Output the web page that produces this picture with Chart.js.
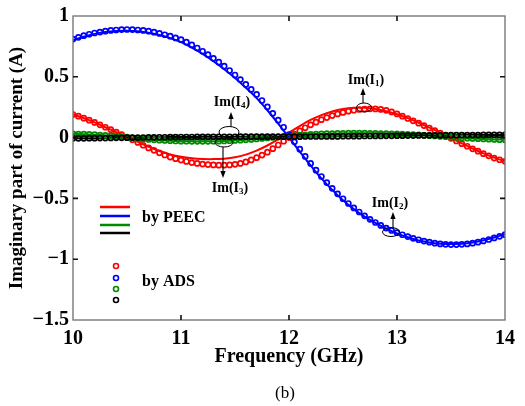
<!DOCTYPE html>
<html>
<head>
<meta charset="utf-8">
<script src="https://cdn.jsdelivr.net/npm/chart.js@4.4.0/dist/chart.umd.min.js"></script>
<style>
  html, body { margin: 0; padding: 0; background: #fff; }
  canvas { display: block; }
</style>
</head>
<body>
<canvas id="current_Chart" width="525" height="406"></canvas>
<script>
// frequency points (GHz)
const freqADS = [
  10.00, 10.05, 10.10, 10.15, 10.20, 10.25, 10.30, 10.35, 10.40, 10.45,
  10.50, 10.55, 10.60, 10.65, 10.70, 10.75, 10.80, 10.85, 10.90, 10.95,
  11.00, 11.05, 11.10, 11.15, 11.20, 11.25, 11.30, 11.35, 11.40, 11.45,
  11.50, 11.55, 11.60, 11.65, 11.70, 11.75, 11.80, 11.85, 11.90, 11.95,
  12.00, 12.05, 12.10, 12.15, 12.20, 12.25, 12.30, 12.35, 12.40, 12.45,
  12.50, 12.55, 12.60, 12.65, 12.70, 12.75, 12.80, 12.85, 12.90, 12.95,
  13.00, 13.05, 13.10, 13.15, 13.20, 13.25, 13.30, 13.35, 13.40, 13.45,
  13.50, 13.55, 13.60, 13.65, 13.70, 13.75, 13.80, 13.85, 13.90, 13.95,
  14.00
];
const freqPEEC = [
  10.0, 10.1, 10.2, 10.3, 10.4, 10.5, 10.6, 10.7, 10.8, 10.9,
  11.0, 11.1, 11.2, 11.3, 11.4, 11.5, 11.6, 11.7, 11.8, 11.9,
  12.0, 12.1, 12.2, 12.3, 12.4, 12.5, 12.6, 12.7, 12.8, 12.9,
  13.0, 13.1, 13.2, 13.3, 13.4, 13.5, 13.6, 13.7, 13.8, 13.9,
  14.0
];

// Im(I1) .. Im(I4) by PEEC (solid lines)
const redPEEC = [
  0.190, 0.160, 0.125, 0.085, 0.045, 0.005, -0.035, -0.075, -0.110, -0.138,
  -0.158, -0.170, -0.176, -0.177, -0.173, -0.162, -0.140, -0.107, -0.065, -0.015,
  0.040, 0.095, 0.145, 0.185, 0.215, 0.235, 0.245, 0.245, 0.235, 0.217,
  0.192, 0.160, 0.122, 0.082, 0.040, -0.004, -0.048, -0.090, -0.130, -0.165,
  -0.195
];
const bluePEEC = [
  0.800, 0.830, 0.853, 0.868, 0.877, 0.879, 0.874, 0.862, 0.843, 0.818,
  0.785, 0.740, 0.688, 0.628, 0.562, 0.490, 0.410, 0.325, 0.225, 0.115,
  0.000, -0.115, -0.228, -0.335, -0.430, -0.515, -0.588, -0.650, -0.702, -0.748,
  -0.788, -0.820, -0.845, -0.862, -0.872, -0.875, -0.872, -0.862, -0.845, -0.822,
  -0.795
];
const greenPEEC = [
  0.030, 0.028, 0.024, 0.018, 0.010, 0.002, -0.007, -0.015, -0.021, -0.026,
  -0.029, -0.031, -0.031, -0.030, -0.028, -0.024, -0.018, -0.011, -0.003, 0.005,
  0.013, 0.020, 0.026, 0.030, 0.033, 0.035, 0.036, 0.036, 0.034, 0.032,
  0.030, 0.026, 0.022, 0.016, 0.010, 0.004, -0.002, -0.007, -0.011, -0.015,
  -0.018
];
const blackPEEC = [
  -0.006, -0.006, -0.005, -0.004, -0.002, -0.001, 0.000, 0.002, 0.003, 0.004,
  0.005, 0.005, 0.006, 0.007, 0.007, 0.007, 0.008, 0.008, 0.008, 0.008,
  0.008, 0.008, 0.009, 0.009, 0.010, 0.011, 0.012, 0.013, 0.014, 0.015,
  0.016, 0.017, 0.018, 0.019, 0.019, 0.020, 0.021, 0.021, 0.022, 0.022,
  0.022
];

// same currents by ADS (open circles)
const redADS = [
  0.190, 0.176, 0.160, 0.143, 0.125, 0.105, 0.085, 0.065, 0.045, 0.025,
  0.005, -0.018, -0.040, -0.063, -0.085, -0.105, -0.125, -0.143, -0.160, -0.173,
  -0.185, -0.196, -0.205, -0.212, -0.218, -0.222, -0.225, -0.227, -0.227, -0.225,
  -0.220, -0.212, -0.200, -0.184, -0.165, -0.144, -0.120, -0.091, -0.061, -0.030,
  0.000, 0.028, 0.055, 0.081, 0.105, 0.127, 0.147, 0.165, 0.181, 0.195,
  0.207, 0.217, 0.225, 0.231, 0.235, 0.237, 0.236, 0.232, 0.224, 0.211,
  0.195, 0.176, 0.157, 0.138, 0.119, 0.099, 0.079, 0.058, 0.037, 0.016,
  -0.006, -0.028, -0.050, -0.071, -0.092, -0.112, -0.132, -0.150, -0.168, -0.182,
  -0.195
];
const blueADS = [
  0.810, 0.825, 0.838, 0.850, 0.860, 0.868, 0.875, 0.881, 0.885, 0.888,
  0.889, 0.888, 0.885, 0.881, 0.875, 0.867, 0.857, 0.846, 0.834, 0.820,
  0.805, 0.785, 0.762, 0.737, 0.710, 0.682, 0.652, 0.620, 0.587, 0.552,
  0.515, 0.477, 0.437, 0.396, 0.355, 0.305, 0.253, 0.200, 0.143, 0.085,
  0.025, -0.035, -0.095, -0.155, -0.212, -0.268, -0.320, -0.370, -0.417, -0.462,
  -0.503, -0.542, -0.578, -0.612, -0.643, -0.672, -0.698, -0.722, -0.744, -0.764,
  -0.782, -0.799, -0.814, -0.828, -0.840, -0.851, -0.860, -0.868, -0.874, -0.878,
  -0.880, -0.880, -0.878, -0.874, -0.868, -0.860, -0.850, -0.838, -0.825, -0.812,
  -0.798
];
const greenADS = [
  0.030, 0.029, 0.028, 0.026, 0.024, 0.021, 0.018, 0.014, 0.010, 0.006,
  0.002, -0.003, -0.007, -0.011, -0.015, -0.018, -0.021, -0.024, -0.026, -0.028,
  -0.029, -0.030, -0.031, -0.031, -0.031, -0.031, -0.030, -0.029, -0.028, -0.026,
  -0.024, -0.021, -0.018, -0.015, -0.011, -0.007, -0.003, 0.001, 0.005, 0.009,
  0.013, 0.017, 0.020, 0.023, 0.026, 0.028, 0.030, 0.032, 0.033, 0.034,
  0.035, 0.036, 0.036, 0.036, 0.036, 0.035, 0.034, 0.033, 0.032, 0.031,
  0.030, 0.028, 0.026, 0.024, 0.022, 0.019, 0.016, 0.013, 0.010, 0.007,
  0.004, 0.001, -0.002, -0.005, -0.007, -0.009, -0.011, -0.013, -0.015, -0.017,
  -0.018
];
const blackADS = [
  -0.006, -0.006, -0.006, -0.005, -0.005, -0.004, -0.004, -0.003, -0.002, -0.002,
  -0.001, 0.000, 0.000, 0.001, 0.002, 0.002, 0.003, 0.003, 0.004, 0.004,
  0.005, 0.005, 0.005, 0.006, 0.006, 0.006, 0.007, 0.007, 0.007, 0.007,
  0.007, 0.008, 0.008, 0.008, 0.008, 0.008, 0.008, 0.008, 0.008, 0.008,
  0.008, 0.008, 0.008, 0.009, 0.009, 0.009, 0.009, 0.010, 0.010, 0.010,
  0.011, 0.011, 0.012, 0.012, 0.013, 0.013, 0.014, 0.014, 0.015, 0.015,
  0.016, 0.016, 0.017, 0.017, 0.018, 0.018, 0.019, 0.019, 0.019, 0.020,
  0.020, 0.020, 0.021, 0.021, 0.021, 0.021, 0.022, 0.022, 0.022, 0.022,
  0.022
];

// tick labels
const xTickLabels = ['10', '11', '12', '13', '14'];
const yTickValues = [1, 0.5, 0, -0.5, -1, -1.5];
const yTickLabels = ['1', '0.5', '0', '\u22120.5', '\u22121', '\u22121.5'];

const SERIF = '"Liberation Serif", "Times New Roman", serif';
const RED = '#ff0000', BLUE = '#0000ff', GREEN = '#008a00', BLACK = '#000000';

function toPoints(xs, ys) {
  return xs.map((x, i) => ({ x: x, y: ys[i] }));
}

function peecSet(ys, color, order) {
  return {
    data: toPoints(freqPEEC, ys),
    borderColor: color,
    borderWidth: 2,
    pointRadius: 0,
    tension: 0.35,
    fill: false,
    order: order
  };
}

function adsSet(ys, color, order) {
  return {
    data: toPoints(freqADS, ys),
    showLine: false,
    borderColor: color,
    backgroundColor: 'rgba(255,255,255,0)',
    pointRadius: 2.5,
    pointBorderWidth: 1.7,
    pointBorderColor: color,
    order: order
  };
}

// draws the box, inward ticks, titles, legend and the Im(I) notes
const decorPlugin = {
  id: 'decor',
  afterDraw(chart) {
    const ctx = chart.ctx;
    const a = chart.chartArea;
    const xs = chart.scales.x, ys = chart.scales.y;
    ctx.save();

    // box
    ctx.strokeStyle = '#6e6e6e';
    ctx.lineWidth = 1.3;
    ctx.strokeRect(a.left, a.top, a.right - a.left, a.bottom - a.top);

    // inward ticks on all four sides
    ctx.strokeStyle = '#111';
    ctx.lineWidth = 1.6;
    ctx.beginPath();
    [11, 12, 13].forEach(v => {
      const px = xs.getPixelForValue(v);
      ctx.moveTo(px, a.bottom); ctx.lineTo(px, a.bottom - 5);
      ctx.moveTo(px, a.top); ctx.lineTo(px, a.top + 5);
    });
    [0.5, 0, -0.5, -1].forEach(v => {
      const py = ys.getPixelForValue(v);
      ctx.moveTo(a.left, py); ctx.lineTo(a.left + 5, py);
      ctx.moveTo(a.right, py); ctx.lineTo(a.right - 5, py);
    });
    ctx.stroke();

    // axis titles and caption
    ctx.fillStyle = '#000';
    ctx.textAlign = 'center';
    ctx.textBaseline = 'middle';
    ctx.font = 'bold 20px ' + SERIF;
    ctx.fillText('Frequency (GHz)', 289, 357);
    ctx.save();
    ctx.translate(17, 168);
    ctx.rotate(-Math.PI / 2);
    ctx.font = 'bold 19px ' + SERIF;
    ctx.fillText('Imaginary part of current (A)', 0, 0);
    ctx.restore();
    ctx.font = '17px ' + SERIF;
    ctx.fillText('(b)', 285, 394);

    // legend
    const colors = [RED, BLUE, GREEN, BLACK];
    const lineY = [207, 216, 225, 233];
    const dotY = [266, 278, 289, 300];
    ctx.lineWidth = 2.5;
    colors.forEach((c, i) => {
      ctx.strokeStyle = c;
      ctx.beginPath();
      ctx.moveTo(100, lineY[i]); ctx.lineTo(130, lineY[i]);
      ctx.stroke();
    });
    ctx.lineWidth = 1.6;
    colors.forEach((c, i) => {
      ctx.strokeStyle = c;
      ctx.beginPath();
      ctx.arc(116, dotY[i], 2.5, 0, Math.PI * 2);
      ctx.stroke();
    });
    ctx.fillStyle = '#000';
    ctx.textAlign = 'left';
    ctx.font = 'bold 16px ' + SERIF;
    ctx.fillText('by PEEC', 142, 218);
    ctx.fillText('by ADS', 142, 282);

    // notes: ellipse + arrow + label
    function ellipse(cx, cy, rx, ry) {
      ctx.strokeStyle = '#000';
      ctx.lineWidth = 1;
      ctx.beginPath();
      ctx.ellipse(cx, cy, rx, ry, 0, 0, Math.PI * 2);
      ctx.stroke();
    }
    function arrow(x, y0, y1) {
      const dir = y1 < y0 ? 1 : -1;
      ctx.strokeStyle = '#000';
      ctx.lineWidth = 1.1;
      ctx.beginPath();
      ctx.moveTo(x, y0); ctx.lineTo(x, y1 + dir * 5);
      ctx.stroke();
      ctx.fillStyle = '#000';
      ctx.beginPath();
      ctx.moveTo(x, y1);
      ctx.lineTo(x - 2.6, y1 + dir * 7);
      ctx.lineTo(x + 2.6, y1 + dir * 7);
      ctx.closePath();
      ctx.fill();
    }
    function label(cx, cy, sub) {
      ctx.fillStyle = '#000';
      ctx.textAlign = 'left';
      ctx.textBaseline = 'middle';
      const big = 'bold 14px ' + SERIF, small = 'bold 9px ' + SERIF;
      ctx.font = big;
      const w1 = ctx.measureText('Im(I').width;
      const w3 = ctx.measureText(')').width;
      ctx.font = small;
      const w2 = ctx.measureText(sub).width;
      let x0 = cx - (w1 + w2 + w3) / 2;
      ctx.font = big;
      ctx.fillText('Im(I', x0, cy);
      ctx.font = small;
      ctx.fillText(sub, x0 + w1, cy + 4);
      ctx.font = big;
      ctx.fillText(')', x0 + w1 + w2, cy);
    }

    ellipse(364, 107.5, 7.5, 4.5);
    arrow(363, 103, 88);
    label(366, 80, '1');

    ellipse(391, 232, 8.5, 4.5);
    arrow(393, 227.5, 212);
    label(390, 203, '2');

    ellipse(229, 132, 10, 5.5);
    arrow(231, 126.5, 112);
    label(232, 102, '4');

    ellipse(224, 142.5, 9, 4.5);
    arrow(223, 147, 178);
    label(230, 188, '3');

    ctx.restore();
  }
};

const data = {
  datasets: [
    adsSet(blackADS, BLACK, 0),
    adsSet(greenADS, GREEN, 1),
    adsSet(blueADS, BLUE, 2),
    adsSet(redADS, RED, 3),
    peecSet(blackPEEC, BLACK, 4),
    peecSet(greenPEEC, GREEN, 5),
    peecSet(bluePEEC, BLUE, 6),
    peecSet(redPEEC, RED, 7)
  ]
};

const config = {
  type: 'line',
  data: data,
  options: {
    responsive: false,
    animation: false,
    layout: { padding: { top: 12, right: 20, left: 0, bottom: 0 } },
    plugins: {
      legend: { display: false },
      tooltip: { enabled: false }
    },
    scales: {
      x: {
        type: 'linear',
        min: 10,
        max: 14,
        afterFit: s => { s.height = 86; },
        afterBuildTicks: s => { s.ticks = xTickLabels.map(t => ({ value: Number(t) })); },
        grid: { display: false, drawTicks: false },
        border: { display: false },
        ticks: {
          padding: 7,
          color: '#000',
          font: { family: SERIF, size: 20, weight: 'bold' },
          callback: (v, i) => xTickLabels[i]
        }
      },
      y: {
        min: -1.5,
        max: 1,
        afterFit: s => { s.width = 73; },
        afterBuildTicks: s => { s.ticks = yTickValues.map(v => ({ value: v })); },
        grid: { display: false, drawTicks: false },
        border: { display: false },
        ticks: {
          padding: 4,
          color: '#000',
          font: { family: SERIF, size: 20, weight: 'bold' },
          callback: v => yTickLabels[yTickValues.indexOf(v)]
        }
      }
    }
  },
  plugins: [decorPlugin]
};

const myChart = new Chart(
  document.getElementById('current_Chart'),
  config
);
</script>
</body>
</html>
